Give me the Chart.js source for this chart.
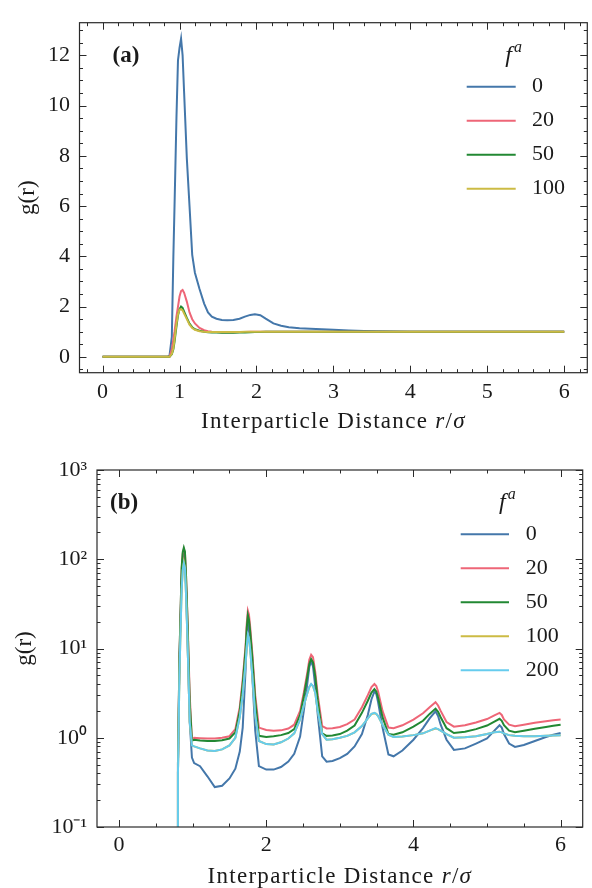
<!DOCTYPE html>
<html><head><meta charset="utf-8">
<script src="https://cdn.jsdelivr.net/npm/chart.js@4.4.1/dist/chart.umd.min.js"></script>
<style>
html,body{margin:0;padding:0;background:#fff;width:592px;height:888px;overflow:hidden}
#wa{position:absolute;left:0;top:0;width:592px;height:440px}
#wb{position:absolute;left:0;top:440px;width:592px;height:448px}
</style></head><body>
<div id="wa"><canvas id="ca" width="592" height="440"></canvas></div>
<div id="wb"><canvas id="cb" width="592" height="448"></canvas></div>
<script>
// ---------- data ----------
const seriesLabels = ['0', '20', '50', '100', '200'];
const seriesColors = ['#4477AA', '#EE6677', '#228833', '#CCBB44', '#66CCEE'];

// panel (a): linear g(r)
const rA = [0, 0.5, 0.84, 0.87, 0.9, 0.92, 0.935, 0.96, 0.98, 1.0, 1.02, 1.04, 1.06, 1.095, 1.13, 1.165, 1.2, 1.26, 1.32, 1.37, 1.42, 1.48, 1.55, 1.62, 1.7, 1.78, 1.85, 1.92, 1.98, 2.05, 2.12, 2.22, 2.32, 2.42, 2.56, 2.7, 2.85, 3.0, 3.2, 3.4, 3.6, 3.8, 4.0, 4.5, 5.0, 5.5, 6.0];
const gA0 = [0, 0, 0, 0.05, 0.8, 4.0, 6.0, 9.5, 11.8, 12.3, 12.67, 12.0, 10.5, 7.9, 6.0, 4.06, 3.35, 2.7, 2.12, 1.77, 1.6, 1.52, 1.47, 1.46, 1.47, 1.52, 1.6, 1.67, 1.70, 1.66, 1.52, 1.33, 1.24, 1.18, 1.14, 1.12, 1.1, 1.08, 1.05, 1.03, 1.02, 1.01, 1.0, 1.0, 1.0, 1.0, 1.0];
const gA20 = [0, 0, 0, 0, 0.3, 0.7, 1.0, 1.6, 2.0, 2.4, 2.62, 2.66, 2.55, 2.2, 1.77, 1.5, 1.33, 1.15, 1.06, 1.02, 1.0, 0.99, 0.98, 0.98, 0.98, 0.99, 0.99, 1.0, 1.0, 1.0, 1.0, 1.0, 1.0, 1.0, 1.0, 1.0, 1.0, 1.0, 1.0, 1.0, 1.0, 1.0, 1.0, 1.0, 1.0, 1.0, 1.0];
const gA50 = [0, 0, 0, 0, 0.1, 0.3, 0.6, 1.2, 1.65, 1.9, 2.0, 1.95, 1.8, 1.55, 1.32, 1.18, 1.1, 1.04, 1.0, 0.98, 0.97, 0.97, 0.96, 0.96, 0.96, 0.97, 0.97, 0.98, 0.99, 0.99, 1.0, 1.0, 1.0, 1.0, 1.0, 1.0, 1.0, 1.0, 1.0, 1.0, 1.0, 1.0, 1.0, 1.0, 1.0, 1.0, 1.0];
const gA100 = [0, 0, 0, 0, 0.12, 0.35, 0.7, 1.3, 1.7, 1.88, 1.9, 1.85, 1.72, 1.5, 1.28, 1.15, 1.08, 1.02, 1.0, 0.99, 0.99, 0.99, 0.99, 0.99, 0.99, 0.99, 1.0, 1.0, 1.0, 1.0, 1.0, 1.0, 1.0, 1.0, 1.0, 1.0, 1.0, 1.0, 1.0, 1.0, 1.0, 1.0, 1.0, 1.0, 1.0, 1.0, 1.0];

// panel (b): log g(r)
const rB = [0.79, 0.8, 0.82, 0.85, 0.865, 0.88, 0.895, 0.91, 0.93, 0.96,
 0.99, 1.02, 1.1, 1.2, 1.3, 1.4, 1.5, 1.58, 1.64, 1.68,
 1.72, 1.735, 1.75, 1.765, 1.78, 1.81, 1.85, 1.9, 2.0, 2.1,
 2.2, 2.3, 2.38, 2.46, 2.51, 2.56, 2.585, 2.61, 2.635, 2.665,
 2.7, 2.76, 2.82, 2.9, 3.0, 3.1, 3.2, 3.3, 3.38, 3.43,
 3.47, 3.495, 3.52, 3.58, 3.66, 3.73, 3.85, 4.0, 4.13, 4.22,
 4.3, 4.335, 4.37, 4.45, 4.55, 4.7, 4.85, 5.0, 5.1, 5.17,
 5.2, 5.23, 5.3, 5.38, 5.5, 5.65, 5.8, 5.9, 6.0];
const gB0 = [0.01, 0.4, 7, 60, 100, 120, 105, 50, 12, 1.5,
 0.6, 0.52, 0.48, 0.37, 0.28, 0.29, 0.35, 0.45, 0.7, 1.3,
 6, 13, 20, 17, 12, 5, 1.2, 0.48, 0.44, 0.44,
 0.47, 0.54, 0.66, 1.03, 2.0, 4.2, 6.2, 7.2, 6.3, 3.8,
 1.8, 0.62, 0.54, 0.55, 0.59, 0.66, 0.8, 1.1, 1.8, 2.7,
 3.3, 3.1, 2.5, 1.3, 0.65, 0.62, 0.72, 0.95, 1.28, 1.65,
 1.98, 1.75, 1.4, 0.95, 0.73, 0.76, 0.86, 0.98, 1.2, 1.38,
 1.3, 1.1, 0.86, 0.79, 0.83, 0.92, 1.02, 1.08, 1.13];
const gB20 = [0.01, 0.5, 8, 75, 115, 130, 118, 65, 22, 3,
 0.95, 1.0, 0.99, 0.98, 0.98, 1.0, 1.04, 1.25, 2.2, 4.5,
 11, 19, 26.5, 24, 18, 9, 3.0, 1.3, 1.22, 1.2,
 1.21, 1.27, 1.4, 2.0, 3.2, 5.5, 7.5, 8.5, 8.0, 5.5,
 3.0, 1.35, 1.27, 1.28, 1.32, 1.42, 1.6, 2.2, 3.0, 3.7,
 4.0, 3.8, 3.3, 2.0, 1.3, 1.28, 1.38, 1.6, 1.88, 2.2,
 2.5, 2.3, 2.0, 1.5, 1.33, 1.38, 1.48, 1.62, 1.78, 1.9,
 1.8, 1.6, 1.4, 1.35, 1.4, 1.47, 1.53, 1.57, 1.6];
const gB50 = [0.01, 0.5, 8, 80, 120, 135, 122, 65, 20, 2.5,
 0.93, 0.95, 0.93, 0.92, 0.92, 0.94, 0.98, 1.15, 2.0, 4.0,
 10, 17, 23.7, 21, 16, 8, 2.6, 1.05, 1.02, 1.04,
 1.07, 1.13, 1.25, 1.8, 2.9, 5.0, 6.7, 7.6, 7.0, 4.9,
 2.6, 1.12, 1.05, 1.06, 1.1, 1.2, 1.37, 1.9, 2.6, 3.2,
 3.5, 3.3, 2.8, 1.7, 1.1, 1.08, 1.15, 1.33, 1.55, 1.85,
 2.12, 1.95, 1.7, 1.28, 1.13, 1.17, 1.25, 1.37, 1.52, 1.63,
 1.55, 1.38, 1.2, 1.15, 1.2, 1.26, 1.32, 1.36, 1.4];
const gB100 = [0.01, 0.4, 5, 46, 75, 92, 80, 40, 12, 1.5,
 0.82, 0.8, 0.76, 0.72, 0.71, 0.74, 0.82, 1.0, 1.7, 3.0,
 7, 10.5, 14, 13, 10, 5, 1.8, 0.92, 0.85, 0.84,
 0.89, 0.98, 1.12, 1.6, 2.3, 3.2, 3.7, 3.95, 3.8, 3.2,
 2.0, 1.1, 0.95, 0.96, 1.0, 1.05, 1.15, 1.35, 1.65, 1.85,
 1.88, 1.85, 1.75, 1.4, 1.08, 1.02, 1.03, 1.07, 1.12, 1.2,
 1.27, 1.25, 1.2, 1.1, 1.0, 1.01, 1.04, 1.1, 1.15, 1.17,
 1.15, 1.12, 1.07, 1.05, 1.04, 1.04, 1.05, 1.06, 1.07];
const gB200 = [0.01, 0.4, 5, 45, 75, 90, 80, 40, 12, 1.5,
 0.82, 0.8, 0.76, 0.72, 0.71, 0.74, 0.82, 1.0, 1.7, 3.0,
 7, 10.5, 14.2, 13, 10, 5, 1.8, 0.92, 0.85, 0.84,
 0.89, 0.98, 1.12, 1.6, 2.3, 3.2, 3.7, 4.0, 3.8, 3.2,
 2.0, 1.1, 0.95, 0.96, 1.0, 1.05, 1.15, 1.35, 1.65, 1.85,
 1.9, 1.85, 1.75, 1.4, 1.08, 1.02, 1.03, 1.07, 1.12, 1.2,
 1.28, 1.25, 1.2, 1.1, 1.0, 1.01, 1.04, 1.1, 1.15, 1.17,
 1.15, 1.12, 1.07, 1.05, 1.04, 1.04, 1.05, 1.06, 1.07];

// ticks
const xTicksA = [0, 1, 2, 3, 4, 5, 6];
const xMinorA = [-0.2, 0.2, 0.4, 0.6, 0.8, 1.2, 1.4, 1.6, 1.8, 2.2, 2.4, 2.6, 2.8, 3.2, 3.4, 3.6, 3.8, 4.2, 4.4, 4.6, 4.8, 5.2, 5.4, 5.6, 5.8, 6.2];
const yTicksA = [0, 2, 4, 6, 8, 10, 12];
const yMinorA = [-0.5, 0.5, 1, 1.5, 2.5, 3, 3.5, 4.5, 5, 5.5, 6.5, 7, 7.5, 8.5, 9, 9.5, 10.5, 11, 11.5, 12.5, 13];
const xTicksB = [0, 2, 4, 6];
const xMinorB = [0.5, 1, 1.5, 2.5, 3, 3.5, 4.5, 5, 5.5];
const yTicksB = [0.1, 1, 10, 100, 1000];
const yTickLabelsB = ['10\u207B\u00B9', '10\u2070', '10\u00B9', '10\u00B2', '10\u00B3'];
const yMinorB = [0.2, 0.3, 0.4, 0.5, 0.6, 0.7, 0.8, 0.9, 2, 3, 4, 5, 6, 7, 8, 9, 20, 30, 40, 50, 60, 70, 80, 90, 200, 300, 400, 500, 600, 700, 800, 900];
const xTitleParts = [['Interparticle Distance ', ''], ['r', 'italic '], ['/', ''], ['\u03C3', 'italic ']];
const yTitle = 'g(r)';

// ---------- drawing ----------
const FONT = "'Liberation Serif', 'Times New Roman', serif";
const INK = '#1a1a1a';

const frame = {
  id: 'frame',
  afterDatasetsDraw(chart, args, o) {
    const {ctx, chartArea: a, scales: {x, y}} = chart;
    ctx.save();
    ctx.strokeStyle = '#2a2a2a';
    ctx.lineWidth = 1;
    const seg = (x1, y1, x2, y2) => { ctx.beginPath(); ctx.moveTo(x1, y1); ctx.lineTo(x2, y2); ctx.stroke(); };
    const xt = (vals, len) => vals.forEach(v => {
      const p = Math.round(x.getPixelForValue(v)) + 0.5;
      if (p < a.left || p > a.right) return;
      seg(p, a.bottom, p, a.bottom - len); seg(p, a.top, p, a.top + len);
    });
    const yt = (vals, len) => vals.forEach(v => {
      const p = Math.round(y.getPixelForValue(v)) + 0.5;
      if (p < a.top - 0.5 || p > a.bottom + 0.5) return;
      seg(a.left, p, a.left + len, p); seg(a.right, p, a.right - len, p);
    });
    xt(o.xMajor, 7); xt(o.xMinor, 3.5); yt(o.yMajor, 7); yt(o.yMinor, 3.5);
    ctx.lineWidth = 1.2;
    ctx.strokeRect(a.left, a.top, a.right - a.left, a.bottom - a.top);
    ctx.restore();
  }
};

const annot = {
  id: 'annot',
  afterDraw(chart, args, o) {
    const {ctx, chartArea: a} = chart;
    ctx.save();
    ctx.fillStyle = INK;
    ctx.textBaseline = 'middle';
    ctx.textAlign = 'left';
    ctx.font = `bold 23px ${FONT}`;
    ctx.fillText(o.panel, a.left + o.panelDx, a.top + o.panelDy);
    // legend title f^a
    const tx = a.right - o.titleDx, ty = a.top + o.titleDy;
    ctx.font = `italic 24px ${FONT}`;
    ctx.fillText('f', tx, ty);
    const fw = ctx.measureText('f').width;
    ctx.font = `italic 16px ${FONT}`;
    ctx.fillText('a', tx + fw + 2, ty - 8);
    chart.data.datasets.forEach((ds, i) => {
      const yy = a.top + o.rowTop + i * o.rowGap;
      ctx.strokeStyle = ds.borderColor; ctx.lineWidth = 2;
      ctx.beginPath(); ctx.moveTo(a.right - o.lineStart, yy); ctx.lineTo(a.right - o.lineEnd, yy); ctx.stroke();
      ctx.font = `22px ${FONT}`;
      ctx.fillText(ds.label, a.right - o.textDx, yy);
    });
    // x axis title
    ctx.letterSpacing = '1.3px';
    let total = 0;
    const w = xTitleParts.map(([t, st]) => { ctx.font = `${st}23px ${FONT}`; const m = ctx.measureText(t).width; total += m; return m; });
    let cx = (a.left + a.right) / 2 - total / 2;
    const cy = chart.height - o.xTitleDy;
    xTitleParts.forEach(([t, st], i) => { ctx.font = `${st}23px ${FONT}`; ctx.fillText(t, cx, cy); cx += w[i]; });
    ctx.restore();
  }
};

function makeChart(id, cfg) {
  const datasets = cfg.series.map((vals, i) => ({
    label: seriesLabels[i],
    data: cfg.r.map((r, k) => ({x: r, y: vals[k]})),
    borderColor: seriesColors[i],
    backgroundColor: seriesColors[i],
    borderWidth: 2,
    pointRadius: 0,
    tension: 0,
    fill: false,
    order: -i
  }));
  return new Chart(document.getElementById(id), {
    type: 'line',
    data: {datasets},
    plugins: [frame, annot],
    options: {
      responsive: false,
      animation: false,
      events: [],
      layout: {padding: {top: cfg.padTop, right: cfg.padRight, left: 0, bottom: 0}},
      plugins: {
        legend: {display: false},
        tooltip: {enabled: false},
        frame: {xMajor: cfg.xTicks, xMinor: cfg.xMinor, yMajor: cfg.yTicks, yMinor: cfg.yMinor},
        annot: cfg.annot
      },
      scales: {
        x: {
          type: 'linear', min: -0.3, max: 6.3,
          grid: {display: false, drawTicks: false},
          border: {display: false},
          afterBuildTicks: s => { s.ticks = cfg.xTicks.map(v => ({value: v})); },
          afterFit: s => { s.height = cfg.xHeight; },
          ticks: {autoSkip: false, maxRotation: 0, padding: cfg.xTickPad, color: INK,
                  font: {family: FONT, size: 22}, callback: v => String(v)},
          title: {display: false}
        },
        y: {
          type: cfg.yType, min: cfg.yMin, max: cfg.yMax,
          grid: {display: false, drawTicks: false},
          border: {display: false},
          afterBuildTicks: s => { s.ticks = cfg.yTicks.map(v => ({value: v})); },
          afterFit: s => { s.width = cfg.yWidth; },
          ticks: {autoSkip: false, padding: cfg.yTickPad, color: INK,
                  font: {family: FONT, size: 22}, callback: cfg.yLabel},
          title: {display: true, text: yTitle, color: INK,
                  font: {family: FONT, size: 23, lineHeight: 1},
                  padding: {top: cfg.yTitlePad, bottom: 0}}
        }
      }
    }
  });
}

makeChart('ca', {
  r: rA, series: [gA0, gA20, gA50, gA100],
  yType: 'linear', yMin: -0.63, yMax: 13.3,
  xTicks: xTicksA, xMinor: xMinorA, yTicks: yTicksA, yMinor: yMinorA,
  yLabel: v => String(v),
  padTop: 8, padRight: 4.7, yWidth: 79.5, xHeight: 67.3,
  xTickPad: 6, yTickPad: 9.5, yTitlePad: 16.5,
  annot: {panel: '(a)', panelDx: 33, panelDy: 33, titleDx: 82, titleDy: 33,
          rowTop: 64, rowGap: 34, lineStart: 120.6, lineEnd: 71.6, textDx: 55.3, xTitleDy: 18.3}
});

makeChart('cb', {
  r: rB, series: [gB0, gB20, gB50, gB100, gB200],
  yType: 'logarithmic', yMin: 0.1, yMax: 1000,
  xTicks: xTicksB, xMinor: xMinorB, yTicks: yTicksB, yMinor: yMinorB,
  yLabel: (v, i) => yTickLabelsB[i],
  padTop: 30, padRight: 9.3, yWidth: 97, xHeight: 61,
  xTickPad: 5, yTickPad: 10, yTitlePad: 13.5,
  annot: {panel: '(b)', panelDx: 13, panelDy: 33, titleDx: 83.7, titleDy: 33,
          rowTop: 64.3, rowGap: 34, lineStart: 122, lineEnd: 73.7, textDx: 57, xTitleDy: 11.3}
});
</script>
</body></html>
